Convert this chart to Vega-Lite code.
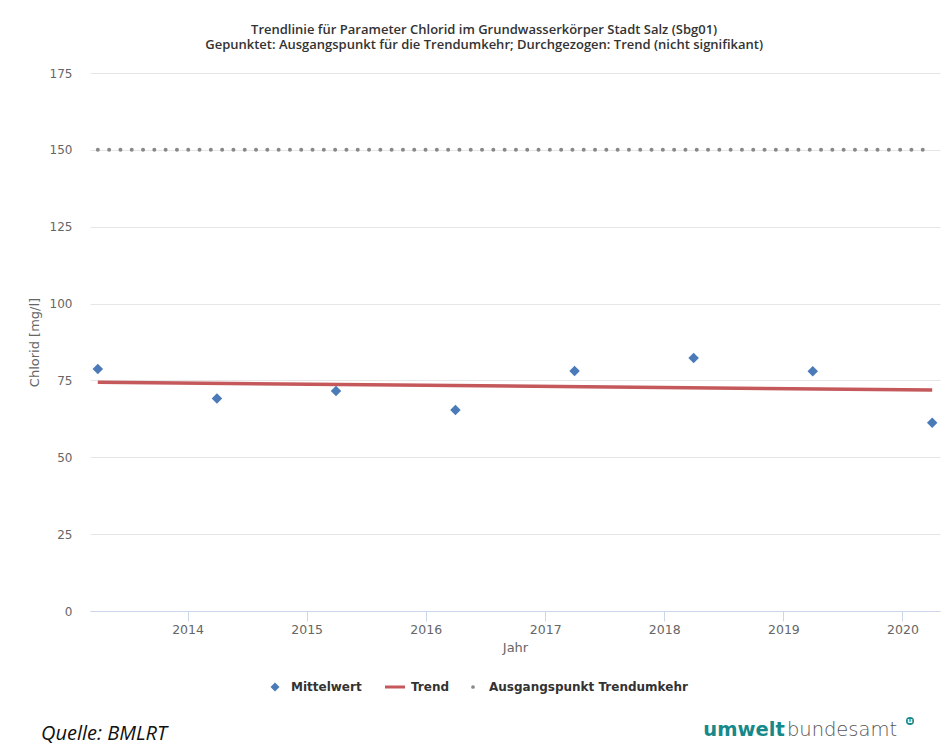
{
  "$schema": "https://vega.github.io/schema/vega-lite/v6.json",
  "background": "white",
  "padding": {"left": 28, "top": 24, "right": 0, "bottom": 0},
  "spacing": 22,
  "config": {
    "view": {"stroke": null}
  },
  "resolve": {"scale": {"color": "independent"}, "legend": {"color": "independent"}},
  "vconcat": [
    {
      "width": 850,
      "height": 538,
      "title": {
        "text": ["Trendlinie für Parameter Chlorid im Grundwasserkörper Stadt Salz (Sbg01)", "Gepunktet: Ausgangspunkt für die Trendumkehr; Durchgezogen: Trend (nicht signifikant)"],
        "font": "Open Sans",
        "fontSize": 13,
        "fontWeight": 600,
        "color": "#333333",
        "lineHeight": 15,
        "offset": 15,
        "anchor": "middle",
        "frame": "bounds"
      },
      "data": {
        "values": [
          {"jahr": "2013-04-01", "wert": 150, "reihe": "Ausgangspunkt Trendumkehr"},
          {"jahr": "2020-04-01", "wert": 150, "reihe": "Ausgangspunkt Trendumkehr"},
          {"jahr": "2013-04-01", "wert": 74.4, "reihe": "Trend"},
          {"jahr": "2020-04-01", "wert": 71.9, "reihe": "Trend"},
          {"jahr": "2013-04-01", "wert": 78.7, "reihe": "Mittelwert"},
          {"jahr": "2014-04-01", "wert": 69.1, "reihe": "Mittelwert"},
          {"jahr": "2015-04-01", "wert": 71.6, "reihe": "Mittelwert"},
          {"jahr": "2016-04-01", "wert": 65.4, "reihe": "Mittelwert"},
          {"jahr": "2017-04-01", "wert": 78.1, "reihe": "Mittelwert"},
          {"jahr": "2018-04-01", "wert": 82.3, "reihe": "Mittelwert"},
          {"jahr": "2019-04-01", "wert": 78.0, "reihe": "Mittelwert"},
          {"jahr": "2020-04-01", "wert": 61.2, "reihe": "Mittelwert"}
        ]
      },
      "encoding": {
        "x": {
          "field": "jahr",
          "type": "temporal",
          "title": "Jahr",
          "scale": {"domain": ["2013-03-08", "2020-04-25"]},
          "axis": {
            "format": "%Y",
            "tickCount": {"interval": "year", "step": 1},
            "grid": false,
            "domainColor": "#ccd6eb",
            "tickColor": "#ccd6eb",
            "tickSize": 10,
            "labelColor": "#666666",
            "labelFont": "DejaVu Sans",
            "labelFontSize": 12.5,
            "labelPadding": 2,
            "labelFlush": false,
            "titleColor": "#666666",
            "titleFont": "DejaVu Sans",
            "titleFontSize": 13,
            "titleFontWeight": "normal",
            "titlePadding": 6
          }
        },
        "y": {
          "field": "wert",
          "type": "quantitative",
          "title": "Chlorid [mg/l]",
          "scale": {"domain": [0, 175], "nice": false},
          "axis": {
            "values": [0, 25, 50, 75, 100, 125, 150, 175],
            "grid": true,
            "gridColor": "#e6e6e6",
            "domain": false,
            "ticks": false,
            "labelPadding": 18,
            "labelColor": "#666666",
            "labelFont": "DejaVu Sans",
            "labelFontSize": 12,
            "titleColor": "#666666",
            "titleFont": "DejaVu Sans",
            "titleFontSize": 13,
            "titleFontWeight": "normal",
            "titlePadding": 8
          }
        },
        "color": {
          "field": "reihe",
          "type": "nominal",
          "scale": {
            "domain": ["Mittelwert", "Trend", "Ausgangspunkt Trendumkehr"],
            "range": ["#4a7ab8", "#c4585b", "#888888"]
          },
          "legend": {
            "orient": "none",
            "legendX": 179,
            "legendY": 608,
            "direction": "horizontal",
            "title": null,
            "labelFont": "DejaVu Sans",
            "labelFontSize": 12,
            "labelFontWeight": "bold",
            "labelColor": "#333333",
            "labelLimit": 400,
            "columnPadding": 17,
            "labelOffset": 10,
            "encode": {
              "symbols": {
                "update": {
                  "shape": {"signal": "datum.value === 'Trend' ? 'stroke' : (datum.value === 'Mittelwert' ? 'diamond' : 'circle')"},
                  "size": {"signal": "datum.value === 'Trend' ? 400 : (datum.value === 'Mittelwert' ? 80 : 14)"},
                  "strokeWidth": {"signal": "datum.value === 'Trend' ? 3 : 0"},
                  "stroke": {"signal": "scale('color', datum.value)"},
                  "fill": {"signal": "scale('color', datum.value)"},
                  "opacity": {"value": 1}
                }
              }
            }
          }
        }
      },
      "layer": [
        {
          "transform": [{"filter": "datum.reihe === 'Ausgangspunkt Trendumkehr'"}],
          "mark": {"type": "line", "strokeWidth": 4, "strokeDash": [0, 11.3], "strokeCap": "round"}
        },
        {
          "transform": [{"filter": "datum.reihe === 'Trend'"}],
          "mark": {"type": "line", "strokeWidth": 3.5}
        },
        {
          "transform": [{"filter": "datum.reihe === 'Mittelwert'"}],
          "mark": {"type": "point", "shape": "diamond", "filled": true, "size": 110, "opacity": 1}
        }
      ]
    },
    {
      "spacing": 459,
      "hconcat": [
        {
          "width": 154,
          "height": 38,
          "data": {"values": [{"t": "Quelle: BMLRT"}]},
          "mark": {"type": "text", "align": "right", "font": "Open Sans", "fontStyle": "italic", "fontSize": 20, "fill": "#111111"},
          "encoding": {"text": {"field": "t"}}
        },
        {
          "spacing": 0,
          "hconcat": [
            {
              "width": 82,
              "height": 30,
              "data": {"values": [{"t": "umwelt"}]},
              "mark": {"type": "text", "font": "DejaVu Sans", "fontWeight": "bold", "fontSize": 19.5, "fill": "#17898a"},
              "encoding": {"text": {"field": "t"}}
            },
            {
              "width": 114,
              "height": 30,
              "data": {"values": [{"t": "bundesamt"}]},
              "mark": {"type": "text", "font": "DejaVu Sans", "fontWeight": 200, "fontSize": 19.5, "fill": "#555555"},
              "encoding": {"text": {"field": "t"}}
            },
            {
              "width": 22,
              "height": 12,
              "data": {"values": [{"t": "u"}]},
              "layer": [
                {"mark": {"type": "point", "shape": "circle", "filled": true, "size": 64, "fill": "#17898a", "opacity": 1}, "encoding": {}},
                {"mark": {"type": "text", "font": "DejaVu Sans", "fontWeight": "bold", "fontSize": 7.5, "fill": "white"}, "encoding": {"text": {"field": "t"}}}
              ]
            }
          ]
        }
      ]
    }
  ]
}
